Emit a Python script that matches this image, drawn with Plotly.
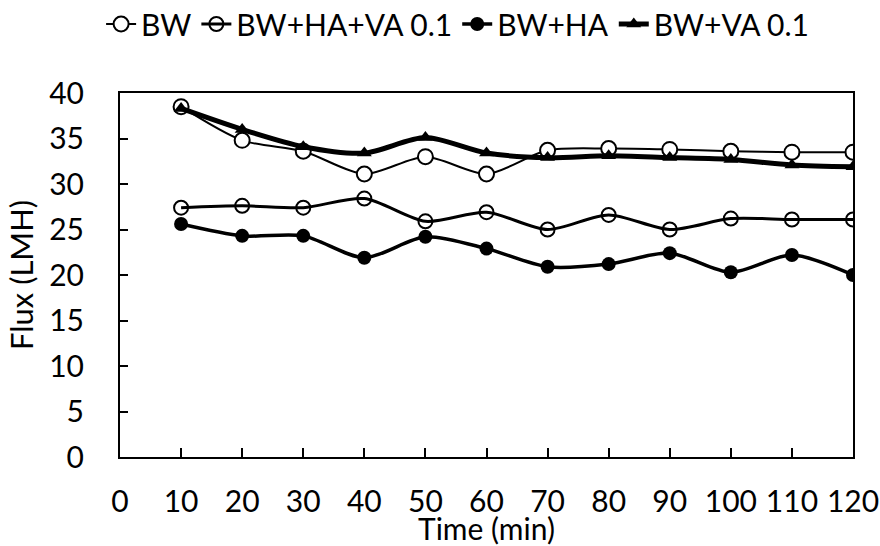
import plotly.graph_objects as go

time_min = [10, 20, 30, 40, 50, 60, 70, 80, 90, 100, 110, 120]
bw = [38.5, 34.8, 33.6, 31.1, 33.0, 31.1, 33.7, 33.9, 33.8, 33.6, 33.5, 33.5]
bw_ha_va = [27.4, 27.6, 27.4, 28.4, 25.9, 26.9, 25.0, 26.6, 25.0, 26.2, 26.1, 26.1]
bw_ha = [25.6, 24.3, 24.3, 21.9, 24.2, 22.9, 20.9, 21.2, 22.4, 20.3, 22.2, 20.0]
bw_va = [38.3, 36.0, 34.1, 33.4, 35.1, 33.4, 32.9, 33.1, 32.9, 32.7, 32.1, 31.9]

series_names = ["BW", "BW+HA+VA 0.1", "BW+HA", "BW+VA 0.1"]
y_ticks = [0, 5, 10, 15, 20, 25, 30, 35, 40]
x_ticks = [0, 10, 20, 30, 40, 50, 60, 70, 80, 90, 100, 110, 120]

FONT = "Lato"

fig = go.Figure()
fig.add_trace(go.Scatter(
    x=time_min, y=bw, name=series_names[0], mode="lines+markers",
    line=dict(color="black", width=2, shape="spline", smoothing=0.8),
    marker=dict(symbol="circle", size=15, color="white", line=dict(color="black", width=2)),
))
fig.add_trace(go.Scatter(
    x=time_min, y=bw_ha_va, name=series_names[1], mode="lines+markers",
    line=dict(color="black", width=3, shape="spline", smoothing=0.8),
    marker=dict(symbol="circle-open", size=14, color="black", line=dict(width=2)),
))
fig.add_trace(go.Scatter(
    x=time_min, y=bw_ha, name=series_names[2], mode="lines+markers",
    line=dict(color="black", width=3.5, shape="spline", smoothing=0.8),
    marker=dict(symbol="circle", size=14, color="black"),
))
fig.add_trace(go.Scatter(
    x=time_min, y=bw_va, name=series_names[3], mode="lines+markers",
    line=dict(color="black", width=5, shape="spline", smoothing=0.8),
    marker=dict(symbol="triangle-up", size=13, color="black"),
))

fig.update_layout(
    width=880, height=546,
    margin=dict(l=120, r=27, t=93, b=89, pad=0),
    paper_bgcolor="white", plot_bgcolor="white",
    font=dict(family=FONT, color="black", size=28),
    showlegend=True,
    legend=dict(
        orientation="h", xref="container", yref="container",
        x=0.52, xanchor="center", y=1 - 24 / 546, yanchor="middle",
        font=dict(family=FONT, size=30, color="black"),
        itemwidth=30, tracegroupgap=0, bgcolor="rgba(0,0,0,0)",
    ),
    xaxis=dict(
        range=[0, 120], tickmode="array", tickvals=x_ticks,
        ticks="inside", ticklen=9, tickwidth=1.5, tickcolor="black",
        showline=True, linecolor="black", linewidth=2, mirror=True,
        showgrid=False, zeroline=False, automargin=False,
        tickfont=dict(family=FONT, size=30, color="black"),
        ticklabelstandoff=17,
        title=dict(text="Time (min)", font=dict(family=FONT, size=30, color="black"), standoff=5),
    ),
    yaxis=dict(
        range=[0, 40], tickmode="array", tickvals=y_ticks,
        ticks="inside", ticklen=8, tickwidth=1.5, tickcolor="black",
        showline=True, linecolor="black", linewidth=2, mirror=True,
        showgrid=False, zeroline=False, automargin=False,
        tickfont=dict(family=FONT, size=30, color="black"),
        ticklabelstandoff=28,
        title=dict(text="Flux (LMH)", font=dict(family=FONT, size=31, color="black"), standoff=6),
    ),
)

fig.write_html("out.html", config={"displayModeBar": False},
               post_script="document.body.style.margin='0';")
